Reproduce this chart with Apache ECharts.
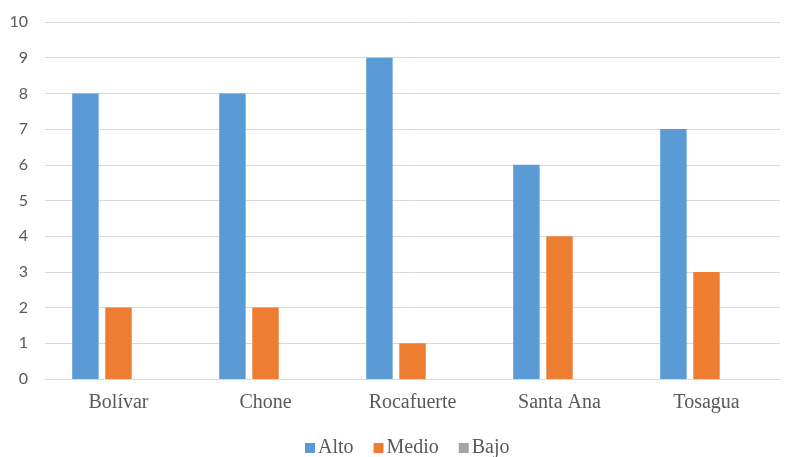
<!DOCTYPE html>
<html>
<head>
<meta charset="utf-8">
<script src="https://cdn.jsdelivr.net/npm/echarts@6/dist/echarts.min.js"></script>
<style>
  html, body { margin: 0; padding: 0; background: #fff; }
  #chart { width: 788px; height: 457px; }
</style>
</head>
<body>
<div id="chart"></div>
<script>
const categories = ['Bolívar', 'Chone', 'Rocafuerte', 'Santa Ana', 'Tosagua']
const alto = [8, 8, 9, 6, 7]
const medio = [2, 2, 1, 4, 3]
const bajo = [0, 0, 0, 0, 0]
const yTicks = [0, 1, 2, 3, 4, 5, 6, 7, 8, 9, 10]

const serif = 'Liberation Serif'
var myChart = echarts.init(document.getElementById('chart'))
var option = {
  animation: false,
  grid: { left: 45, right: 8, top: 22, bottom: 78 },
  legend: {
    top: 433,
    left: 300,
    itemWidth: 10,
    itemHeight: 10,
    itemGap: 20,
    icon: 'rect',
    textStyle: { fontFamily: serif, fontSize: 20, color: '#595959', padding: [0, 0, 0, -2] },
    data: ['Alto', 'Medio', 'Bajo'],
  },
  xAxis: {
    type: 'category',
    data: categories,
    axisLine: { lineStyle: { color: '#d9d9d9', width: 1 } },
    axisTick: { show: false },
    axisLabel: { fontFamily: serif, fontSize: 20, color: '#595959', margin: 14 },
  },
  yAxis: {
    type: 'value',
    min: yTicks[0],
    max: yTicks[yTicks.length - 1],
    interval: 1,
    axisLine: { show: false },
    axisTick: { show: false },
    axisLabel: { fontFamily: 'Lato', fontSize: 16, color: '#595959', margin: 17 },
    splitLine: { lineStyle: { color: '#d9d9d9', width: 1 } },
  },
  series: [
    { name: 'Alto', type: 'bar', data: alto, barGap: '25%', barCategoryGap: '37%', itemStyle: { color: '#5b9bd5' } },
    { name: 'Medio', type: 'bar', data: medio, itemStyle: { color: '#ed7d31' } },
    { name: 'Bajo', type: 'bar', data: bajo, itemStyle: { color: '#a5a5a5' } },
  ],
}
myChart.setOption(option)
</script>
</body>
</html>
